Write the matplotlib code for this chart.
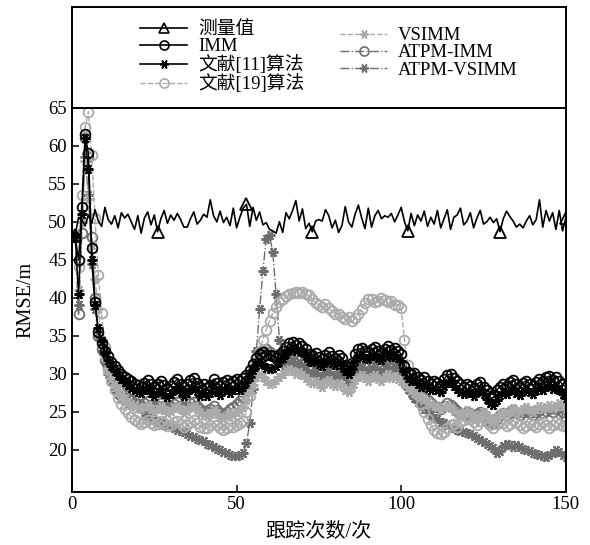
import matplotlib
matplotlib.use('Agg')
import matplotlib.pyplot as plt
from matplotlib.lines import Line2D
import numpy as np

plt.rcParams['font.family'] = ['Liberation Serif', 'Noto Sans CJK SC']
plt.rcParams['axes.unicode_minus'] = False

# ---- data ----
meas = [48.3, 50.6, 50.2, 49.5, 50.9, 49.8, 51.6, 50.1, 49.4, 51.9,
        50.3, 49.7, 50.8, 49.2, 51.2, 50.5, 51.0, 50.0, 49.0, 50.8,
        48.5, 50.5, 51.3, 49.6, 50.9, 48.7, 50.4, 51.5, 49.8, 50.9,
        50.2, 51.1, 50.3, 49.3, 49.3, 50.4, 51.3, 49.7, 50.2, 51.0,
        50.6, 52.9, 50.8, 50.0, 51.4, 49.9, 50.6, 49.5, 51.8, 49.2,
        50.6, 51.8, 52.3, 49.4, 51.9, 50.2, 51.3, 49.6, 49.9, 49.0,
        48.8, 48.5, 50.0, 48.6, 51.2, 50.4, 51.5, 52.8, 50.1, 51.7,
        49.1, 49.8, 48.7, 50.1, 50.3, 50.1, 51.6, 50.8, 49.2, 50.2,
        48.6, 49.5, 52.0, 50.0, 49.3, 51.0, 52.2, 50.5, 49.1, 51.8,
        49.3, 50.8, 51.5, 50.4, 50.8, 50.6, 51.1, 50.0, 50.9, 51.9,
        50.0, 48.8, 51.1, 49.5, 50.9, 50.1, 51.4, 49.4, 50.6, 49.7,
        51.5, 49.2, 50.4, 51.6, 49.0, 50.6, 50.9, 51.8, 49.6, 50.1,
        51.2, 49.2, 50.5, 51.5, 49.7, 50.0, 50.6, 49.9, 50.4, 48.7,
        50.4, 51.4, 50.7, 50.1, 49.3, 49.7, 49.2, 50.1, 50.8, 49.6,
        50.3, 52.9, 49.3, 51.5, 50.1, 51.2, 49.0, 51.5, 48.8, 50.5]

imm = [48.0, 45.0, 52.0, 61.5, 59.0, 46.5, 39.5, 35.5, 34.0, 33.0,
       32.3, 31.6, 31.0, 30.5, 30.0, 29.6, 29.3, 29.0, 28.7, 28.5,
       28.3, 28.8, 29.2, 28.6, 28.2, 28.7, 29.1, 28.5, 28.0, 28.4,
       28.9, 29.3, 28.7, 28.2, 28.6, 29.2, 29.4, 28.8, 28.3, 28.6,
       28.1, 28.5, 29.3, 28.8, 28.4, 28.9, 29.2, 28.7, 29.0, 29.3,
       29.0, 29.4, 29.8, 30.5, 31.3, 32.0, 32.6, 32.8, 32.5, 32.5,
       32.3, 32.0, 32.5, 33.0, 33.5, 34.0, 34.2, 33.8, 34.0, 33.6,
       33.2, 32.6, 32.4, 32.7, 32.2, 31.9, 32.5, 32.8, 32.3, 32.0,
       32.4, 32.1, 31.2, 30.9, 31.4, 32.6, 33.2, 33.4, 33.0, 32.8,
       33.2, 33.5, 33.0, 32.7, 33.3, 33.6, 33.1, 33.4, 33.0, 32.6,
       31.0, 30.2, 29.9, 30.1, 29.6, 29.2, 29.5, 29.0, 28.7, 29.0,
       28.8, 28.5, 29.3, 29.8, 30.0, 29.4, 29.0, 28.6, 28.2, 28.7,
       28.4, 28.1, 28.6, 28.9, 28.3, 27.8, 27.5, 27.2, 27.8, 28.3,
       28.7, 28.4, 28.9, 29.2, 28.6, 28.3, 28.8, 29.1, 28.7, 28.4,
       28.9, 29.3, 29.0, 29.5, 29.7, 29.2, 29.6, 29.1, 28.6, 28.2]

ref11 = [48.0, 40.5, 51.0, 61.0, 57.0, 45.0, 39.0, 36.0, 34.3, 32.8,
         31.8, 31.0, 30.4, 29.8, 29.3, 28.9, 28.5, 28.1, 27.8, 27.6,
         27.4, 27.8, 28.2, 27.5, 27.0, 27.6, 28.0, 27.3, 26.9, 27.3,
         27.8, 28.2, 27.6, 27.0, 27.4, 28.0, 28.3, 27.7, 27.1, 27.5,
         27.0, 27.4, 28.2, 27.6, 27.2, 27.8, 28.1, 27.5, 27.9, 28.2,
         27.9, 28.3, 28.9, 29.6, 30.5, 31.2, 31.6, 31.3, 30.8, 30.6,
         30.8, 31.0, 31.5, 32.0, 32.6, 33.1, 33.4, 33.0, 33.2, 32.8,
         32.3, 31.7, 31.5, 31.8, 31.3, 31.0, 31.6, 31.9, 31.4, 31.1,
         31.5, 31.2, 30.4, 30.0, 30.6, 31.7, 32.3, 32.5, 32.1, 31.9,
         32.3, 32.6, 32.1, 31.8, 32.4, 32.7, 32.2, 32.5, 32.1, 31.7,
         30.3, 29.4, 29.0, 29.2, 28.7, 28.3, 28.6, 28.1, 27.8, 28.1,
         27.9, 27.6, 28.4, 28.8, 29.0, 28.4, 28.0, 27.6, 27.3, 27.7,
         27.4, 27.1, 27.6, 27.9, 27.3, 26.6, 26.2, 25.9, 26.5, 27.2,
         27.6, 27.3, 27.8, 28.1, 27.5, 27.2, 27.7, 28.0, 27.6, 27.3,
         27.8, 28.1, 27.9, 28.3, 28.5, 28.0, 28.4, 27.9, 27.3, 26.8]

ref19 = [48.0, 44.0, 53.5, 62.5, 64.5, 58.8, 50.5, 43.0, 38.0, 33.5,
         30.5, 29.0, 27.8, 26.8, 26.0, 25.3, 24.8, 24.3, 23.9, 23.6,
         23.4, 23.7, 23.9, 23.5, 23.2, 23.4, 23.8, 23.5, 23.1, 23.3,
         23.6, 23.8, 23.4, 23.0, 23.2, 23.6, 23.9, 23.5, 23.0, 22.8,
         22.9, 23.3, 23.6, 23.2, 22.8, 22.6, 22.9, 23.2, 23.0, 23.3,
         23.5, 23.8, 25.0, 27.0, 29.5, 31.5, 33.0, 34.5, 35.8, 37.0,
         38.0, 38.8, 39.4, 39.8, 40.2, 40.5, 40.6, 40.8, 40.6, 40.7,
         40.5, 40.3, 39.8, 39.3, 39.0, 38.8, 39.2, 38.6, 38.2, 37.8,
         37.9, 37.5, 37.2, 37.4, 37.0, 37.3, 37.8, 38.5, 39.3, 39.8,
         39.9, 39.5, 39.6, 40.0, 39.7, 39.4, 39.6, 39.0, 39.1, 38.6,
         34.5, 31.2, 29.8, 28.5, 27.2, 26.0, 25.0, 24.0, 23.2, 22.6,
         22.2, 22.0, 22.3, 22.8, 23.2, 23.4, 23.0, 23.6, 23.9, 24.3,
         24.0, 23.6, 23.3, 23.8, 24.1, 23.7, 23.2, 22.9, 23.4, 23.8,
         23.5, 23.1, 23.4, 23.9, 23.6, 23.2, 22.8, 23.1, 23.5, 23.3,
         23.0, 23.4, 23.7, 23.3, 22.9, 23.2, 23.6, 23.4, 23.1, 23.3]

vsimm = [48.0, 41.0, 50.0, 58.0, 53.0, 47.0, 42.5, 38.5, 34.5, 32.0,
         30.5, 29.4, 28.5, 27.8, 27.2, 26.7, 26.3, 26.0, 25.7, 25.5,
         25.3, 25.6, 25.9, 25.4, 25.0, 25.3, 25.7, 25.2, 24.8, 25.1,
         25.5, 25.8, 25.3, 24.8, 25.1, 25.6, 25.8, 25.3, 24.8, 24.6,
         24.4, 24.8, 25.2, 24.7, 24.3, 24.2, 24.5, 24.9, 24.6, 24.9,
         25.2, 25.6, 26.5, 27.5, 28.5, 29.5, 30.0, 29.5, 29.0, 28.6,
         28.8, 29.2, 29.6, 30.0, 30.3, 30.6, 30.4, 30.0, 30.2, 29.8,
         29.4, 29.0, 28.8, 29.1, 28.6, 28.3, 28.9, 29.2, 28.7, 28.4,
         28.8, 28.5, 27.9, 27.6, 28.2, 29.2, 29.6, 29.8, 29.4, 29.1,
         29.5, 29.8, 29.3, 29.0, 29.6, 29.9, 29.4, 29.7, 29.3, 29.0,
         28.6, 28.2, 27.8, 27.5, 27.2, 26.9, 26.6, 26.3, 26.0, 25.8,
         25.6, 25.3, 25.6, 25.9, 25.5, 25.1, 24.8, 24.6, 24.9, 25.2,
         24.9, 24.5, 24.2, 24.6, 24.9, 24.5, 24.1, 23.8, 24.3, 24.7,
         25.0, 24.8, 25.2, 25.5, 25.1, 24.9, 25.3, 25.6, 25.2, 25.0,
         25.4, 25.7, 25.3, 25.6, 25.9, 25.5, 25.8, 26.1, 25.7, 25.4]

atpm_imm = [48.0, 37.8, 48.5, 61.0, 58.5, 48.0, 40.0, 35.0, 33.3, 31.8,
            30.8, 29.8, 29.0, 28.3, 27.7, 27.2, 26.8, 26.5, 26.2, 26.0,
            25.8, 26.1, 26.4, 25.9, 25.5, 25.8, 26.2, 25.7, 25.3, 25.6,
            26.0, 26.3, 25.8, 25.3, 25.6, 26.1, 26.3, 25.8, 25.3, 25.1,
            24.9, 25.3, 25.7, 25.2, 24.8, 24.6, 24.9, 25.3, 25.6, 26.0,
            26.4, 26.9, 27.8, 29.0, 30.3, 31.5, 32.5, 33.0, 33.2, 32.8,
            32.5, 32.2, 32.6, 32.3, 32.0, 32.4, 32.6, 32.2, 32.4, 32.0,
            31.6, 31.2, 31.0, 31.3, 30.8, 30.5, 31.1, 31.4, 30.9, 30.6,
            31.0, 30.7, 30.0, 29.7, 30.3, 31.2, 31.7, 31.9, 31.5, 31.3,
            31.7, 32.0, 31.5, 31.2, 31.8, 32.1, 31.6, 31.9, 31.5, 31.1,
            29.8, 28.8, 28.3, 28.0, 27.6, 27.2, 26.8, 26.5, 26.1, 25.8,
            25.6, 25.3, 25.8, 26.2, 25.9, 25.5, 25.1, 24.8, 24.5, 24.9,
            24.6, 24.3, 24.7, 25.0, 24.6, 24.1, 23.8, 23.5, 24.0, 24.5,
            24.8, 24.5, 24.9, 25.2, 24.8, 24.5, 24.9, 25.2, 24.8, 24.5,
            24.9, 25.2, 24.8, 25.1, 25.4, 25.0, 25.3, 25.5, 24.9, 24.3]

atpm_vsimm = [48.0, 39.0, 50.0, 58.5, 53.5, 44.5, 38.5, 35.0, 33.0, 31.5,
              30.0, 29.0, 28.0, 27.3, 26.8, 26.4, 26.1, 25.9, 25.7, 25.5,
              25.3, 25.0, 24.6, 24.2, 23.9, 23.7, 23.5, 23.3, 23.4, 23.2,
              22.9, 22.6, 22.5, 22.3, 22.1, 21.8, 21.6, 21.4, 21.3, 21.1,
              20.8, 20.6, 20.4, 20.1, 19.9, 19.7, 19.5, 19.3, 19.2, 19.2,
              19.3, 19.6, 20.9, 23.5, 28.0, 33.0, 38.5, 43.5, 47.8, 48.2,
              46.0, 40.5, 34.5, 31.5, 30.8, 31.2, 31.5, 31.0, 31.2, 30.8,
              30.4, 30.0, 29.8, 30.1, 29.6, 29.3, 29.9, 30.2, 29.7, 29.4,
              29.8, 29.5, 28.8, 28.5, 29.1, 30.0, 30.5, 30.7, 30.3, 30.1,
              30.5, 30.8, 30.3, 30.0, 30.6, 30.9, 30.4, 30.7, 30.3, 29.9,
              28.8, 28.0, 27.4, 26.8, 26.3, 25.8, 25.3, 24.9, 24.5, 24.2,
              24.0, 23.7, 23.5, 23.3, 23.0, 22.8, 22.6, 22.5, 22.3, 22.2,
              22.0, 21.8, 21.5, 21.3, 21.0, 20.8, 20.5, 20.2, 19.5, 19.8,
              20.5, 20.7, 20.6, 20.4, 20.6, 20.3, 20.1, 20.0, 19.8, 19.6,
              19.4, 19.3, 19.2, 19.0, 19.3, 19.6, 19.9, 19.7, 19.3, 19.0]

meas_marks = [0, 25, 52, 72, 101, 129, 149]
labels = ['测量值', 'IMM', '文献[11]算法', '文献[19]算法',
          'VSIMM', 'ATPM-IMM', 'ATPM-VSIMM']
yticks = [20, 25, 30, 35, 40, 45, 50, 55, 60, 65]
xticks = [0, 50, 100, 150]

t = np.arange(1, len(imm) + 1)
light = '#aaaaaa'
dark = '#6e6e6e'
star = (6, 2, 90)  # line asterisk, like the MATLAB '*'

# style of each series: color, linestyle, marker
styles = [
    ('black', '-', '^'),
    ('black', '-', 'o'),
    ('black', '-', star),
    (light, '--', 'o'),
    (light, '--', star),
    (dark, '-.', 'o'),
    (dark, '-.', star),
]

fig = plt.figure(figsize=(5.9, 5.45), dpi=100)
ax = fig.add_axes([0.122, 0.097, 0.837, 0.705])

series = [meas, imm, ref11, ref19, vsimm, atpm_imm, atpm_vsimm]
order = [6, 5, 4, 3, 2, 1, 0]
for i in order:
    c, ls, mk = styles[i]
    y = series[i]
    if i == 0:
        ax.plot(t, y, color=c, ls=ls, lw=1.2, marker=mk, ms=8,
                mfc='none', mec=c, mew=1.3, markevery=meas_marks, zorder=5)
    elif mk == 'o':
        ax.plot(t, y, color=c, ls=ls, lw=1.0, marker=mk, ms=7,
                mfc='none', mec=c, mew=1.3)
    else:
        ax.plot(t, y, color=c, ls=ls, lw=1.0, marker=mk, ms=7,
                mec=c, mew=1.6)

ax.set_xlim(0, 150)
ax.set_ylim(14.4, 65)
ax.set_xticks(xticks)
ax.set_yticks(yticks)
ax.tick_params(direction='in', length=5, width=1.1, labelsize=13.5)
ax.tick_params(axis='x', pad=3)
for s in ax.spines.values():
    s.set_linewidth(1.4)
ax.set_ylabel('RMSE/m', fontsize=14.5, labelpad=9)
ax.set_xlabel('跟踪次数/次', fontsize=14.5, labelpad=7)

# legend box on top of the axes
lax = fig.add_axes([0.122, 0.802, 0.837, 0.185])
lax.set_xticks([])
lax.set_yticks([])
for s in lax.spines.values():
    s.set_linewidth(1.4)

handles = []
for c, ls, mk in styles:
    handles.append(Line2D([], [], color=c, ls=ls, lw=1.2 if c == 'black' else 1.0,
                          marker=mk, ms=6.5, mfc='none', mec=c, mew=1.2))

leg1 = lax.legend(handles[:4], labels[:4], loc='upper left',
                  bbox_to_anchor=(0.138, 0.86), frameon=False, fontsize=13.5,
                  borderpad=0, borderaxespad=0, handlelength=2.5,
                  handletextpad=0.6, labelspacing=0.0)
lax.add_artist(leg1)
lax.legend(handles[4:], labels[4:], loc='upper left',
           bbox_to_anchor=(0.543, 0.80), frameon=False, fontsize=13.5,
           borderpad=0, borderaxespad=0, handlelength=2.5,
           handletextpad=0.6, labelspacing=0.0)

fig.savefig('out.png', dpi=100)
